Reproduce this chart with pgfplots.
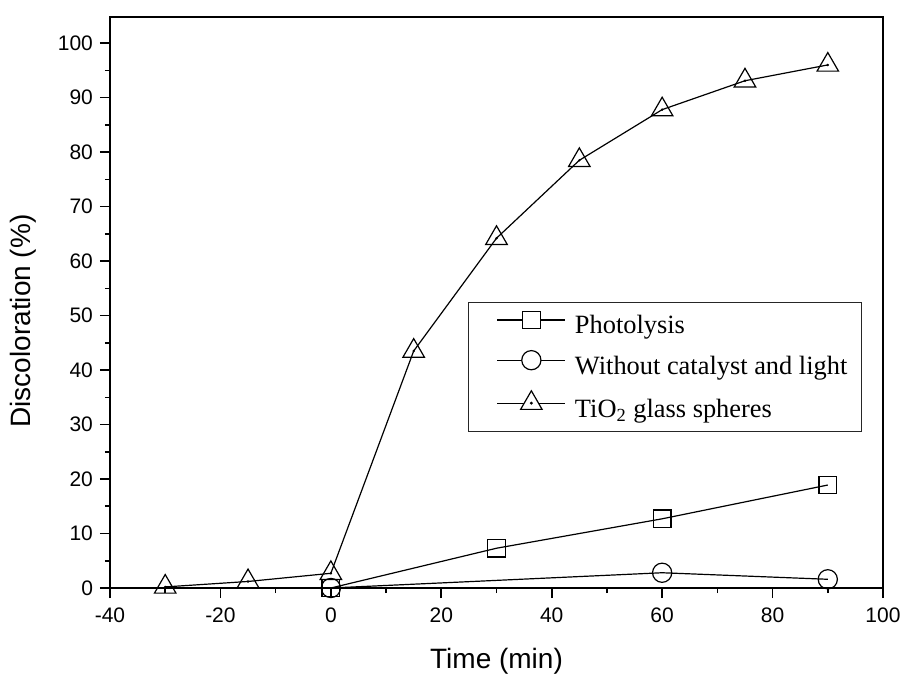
\documentclass[border=0pt]{standalone}
\usepackage{fontspec}
\setmainfont{Liberation Serif}
\setsansfont{Liberation Sans}
\usepackage{pgfplots}
\pgfplotsset{compat=1.18}
\begin{document}
\begin{tikzpicture}
\useasboundingbox (-55pt,-43.5pt) rectangle (396.5pt,294pt);
\begin{axis}[
  scale only axis,
  width=386.5pt, height=285.5pt,
  at={(0pt,0pt)}, anchor=south west,
  xmin=-40, xmax=100, ymin=0, ymax=104.8,
  xtick={-40,-20,...,100}, ytick={0,10,...,100},
  minor x tick num=1, minor y tick num=1,
  tick align=outside,
  xtick pos=bottom, ytick pos=left,
  major tick length=5pt, minor tick length=2.5pt,
  axis line style={line width=1pt},
  every tick/.style={black, line width=0.8pt},
  tick label style={font=\sffamily\fontsize{10.5}{12}\selectfont},
  xticklabel style={yshift=-1.5pt},
  /pgf/number format/assume math mode=true,
  xlabel={Time (min)}, ylabel={Discoloration (\%)},
  label style={font=\sffamily\fontsize{14}{16}\selectfont},
  xlabel style={at={(axis description cs:0.5,-0.1401)}, anchor=base},
  ylabel style={at={(axis description cs:-0.1125,0.4676)}, anchor=center},
  clip=false,
  legend style={at={(0.9728,0.5009)}, anchor=north east,
    draw=black!85, line width=0.6pt,
    font=\fontsize{13.2}{15}\selectfont,
    inner xsep=7pt, inner ysep=4pt,
    row sep=5pt, column sep=4.5pt,
    nodes={inner sep=0pt, text height=10pt, text depth=3pt},
    cells={anchor=west}},
]
\addplot[black, line width=0.6pt, mark=square, mark size=4.4pt, mark options={fill=white, solid},
  legend image code/.code={
    \path (0pt,0pt);
    \draw[black, line width=0.6pt] (7pt,3.5pt) -- (41pt,3.5pt);
    \draw[black, line width=0.6pt, fill=white] (24pt,3.5pt) +(-4.4pt,-4.4pt) rectangle +(4.4pt,4.4pt);
  }]
  coordinates {(0,0) (30,7.3) (60,12.7) (90,18.9)};
\addlegendentry{Photolysis}
\addplot[black, line width=0.6pt, mark=o, mark size=4.8pt, mark options={fill=white, solid},
  legend image code/.code={
    \path (0pt,0pt);
    \draw[black, line width=0.6pt] (7pt,3.5pt) -- (41pt,3.5pt);
    \draw[black, line width=0.6pt, fill=white] (24pt,3.5pt) circle (4.8pt);
  }]
  coordinates {(0,0) (60,2.8) (90,1.6)};
\addlegendentry{Without catalyst and light}
\addplot[black, line width=0.6pt, mark=triangle, mark size=6.2pt, mark options={fill=white, solid},
  legend image code/.code={
    \path (0pt,0pt);
    \draw[black, line width=0.6pt] (7pt,3.5pt) -- (41pt,3.5pt);
    \draw[black, line width=0.6pt, fill=white] (24pt,3.5pt) +(90:6.2pt) -- +(210:6.2pt) -- +(330:6.2pt) -- cycle;
    \fill[black] (24pt,3.5pt) circle (0.4pt);
  }]
  coordinates {(-30,0.2) (-15,1.2) (0,2.7) (15,43.5) (30,64.2) (45,78.5) (60,87.8) (75,93.1) (90,96.0)};
\addlegendentry{TiO\textsubscript{2} glass spheres}
\addplot[only marks, mark=*, mark size=0.4pt, black, forget plot]
  coordinates {(-30,0.2) (-15,1.2) (0,2.7) (15,43.5) (30,64.2) (45,78.5) (60,87.8) (75,93.1) (90,96.0)};
\end{axis}
\end{tikzpicture}
\end{document}
